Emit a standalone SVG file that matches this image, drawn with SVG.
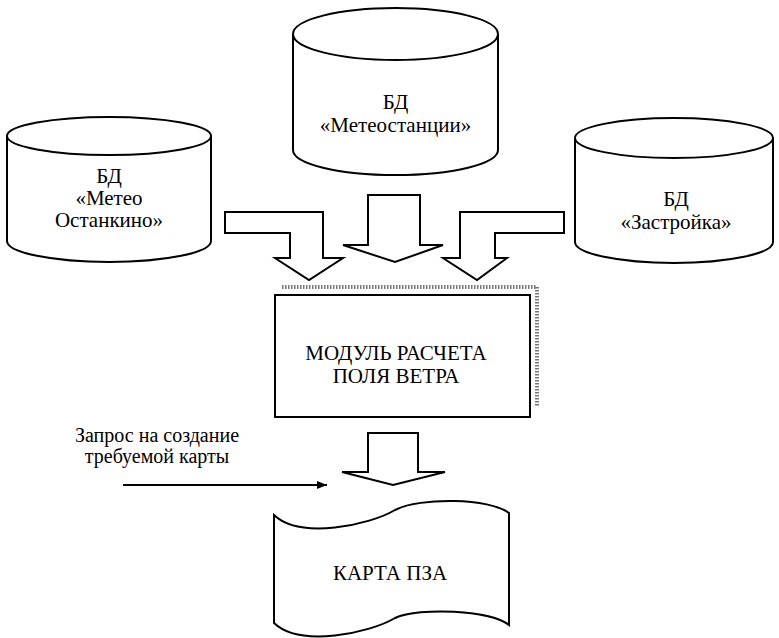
<svg xmlns="http://www.w3.org/2000/svg" width="779" height="638" viewBox="0 0 779 638">
<style>
.s{fill:#fff;stroke:#000;stroke-width:2;stroke-linejoin:miter}
text{font-family:"Liberation Serif","Times New Roman","DejaVu Serif",serif;fill:#000;text-anchor:middle}
.t{font-size:21px}
.lbl{font-size:20px}
.shadow{fill:none;stroke:#777;stroke-width:4;stroke-dasharray:1.5 1.5}
</style>
<defs>
<marker id="ah" viewBox="0 0 10 10" refX="10" refY="5" markerWidth="10" markerHeight="10" markerUnits="userSpaceOnUse" orient="auto">
<path d="M0,1 L10,5 L0,9 Z" fill="#000"/>
</marker>
</defs>
<rect width="779" height="638" fill="#fff"/>

<g id="db-meteo-ostankino">
<path class="s" d="M7,136 L7,241 A102,21 0 0 0 211,241 L211,136"/>
<ellipse class="s" cx="109" cy="136" rx="102" ry="19"/>
<text class="t" x="109" y="183">БД</text>
<text class="t" x="109" y="205">«Метео</text>
<text class="t" x="109" y="227">Останкино»</text>
</g>

<g id="db-meteostations">
<path class="s" d="M293,34 L293,150 A102.5,25 0 0 0 498,150 L498,34"/>
<ellipse class="s" cx="395.5" cy="34" rx="102.5" ry="26"/>
<text class="t" x="395.5" y="109">БД</text>
<text class="t" x="395.5" y="132">«Метеостанции»</text>
</g>

<g id="db-zastroyka">
<path class="s" d="M575,138 L575,242 A99,21 0 0 0 773,242 L773,138"/>
<ellipse class="s" cx="674" cy="138" rx="99" ry="20"/>
<text class="t" x="676" y="206">БД</text>
<text class="t" x="676" y="229">«Застройка»</text>
</g>

<g id="module">
<polyline class="shadow" points="282,287 537,287 537,407"/>
<rect class="s" x="275" y="295" width="255" height="122"/>
<text class="t" x="396" y="360">МОДУЛЬ РАСЧЕТА</text>
<text class="t" x="396" y="383">ПОЛЯ ВЕТРА</text>
</g>

<g id="map">
<path class="s" d="M274,515 C300,540 370,525 395,510 C420,497 490,498 509,513 L509,625 C490,610 420,607 395,618 C370,633 300,648 274,623 Z"/>
<text class="t" x="390" y="580">КАРТА ПЗА</text>
</g>

<g id="request-label">
<text class="lbl" x="157" y="442">Запрос на создание</text>
<text class="lbl" x="157" y="463">требуемой карты</text>
</g>

<g id="connectors">
<polygon class="s" points="225,212 323,212 323,258 343,258 309,280 275,258 290,258 290,233 225,233"/>
<polygon class="s" points="368,195 420,195 420,245 443,245 395,262 343,245 368,245"/>
<polygon class="s" points="460,212 564,212 564,233 495,233 495,258 507,258 477,280 443,258 460,258"/>
<polygon class="s" points="368,433 418,433 418,472 445,472 393,485 342,472 368,472"/>
<line x1="123" y1="485" x2="327" y2="485" stroke="#000" stroke-width="2" marker-end="url(#ah)"/>
</g>
</svg>
